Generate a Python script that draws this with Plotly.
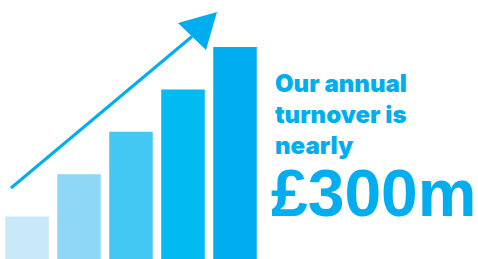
import plotly.graph_objects as go

# Data
steps = [0, 1, 2, 3, 4]
values = [1, 2, 3, 4, 5]
bar_colors = ["#C8E9F9", "#8FD7F6", "#43C8F4", "#00BAF2", "#00AEEF"]
text_lines = ["Our annual", "turnover is", "nearly"]
headline = "£300m"
accent = "#00AEEF"

W, H = 478, 259
px_per_x = 52.0
px_per_y = 42.4
x0_px = 27.0

def dx(px):
    return (px - x0_px) / px_per_x

def dy(py):
    return (H - py) / px_per_y

fig = go.Figure()
fig.add_trace(go.Bar(
    x=steps, y=values, width=0.837,
    marker=dict(color=bar_colors, line=dict(width=0)),
    hoverinfo="skip",
))

# arrow (decoration) in data space
start = (dx(11), dy(188))
tip = (dx(217), dy(12))
c1 = (dx(178), dy(23))
c2 = (dx(206), dy(50))
mid = ((c1[0] + c2[0]) / 2, (c1[1] + c2[1]) / 2)
fig.add_shape(type="line", x0=start[0], y0=start[1], x1=mid[0], y1=mid[1],
              xref="x", yref="y", line=dict(color=accent, width=3))
fig.add_shape(type="path",
              path=f"M {tip[0]},{tip[1]} L {c1[0]},{c1[1]} L {c2[0]},{c2[1]} Z",
              xref="x", yref="y", fillcolor=accent, line=dict(color=accent, width=0))

small_font = "Inter, Liberation Sans, Arial, sans-serif"
big_font = "Liberation Sans, Arial, Helvetica, sans-serif"
tops = [67, 98, 129]
for t, top in zip(text_lines, tops):
    fig.add_annotation(text=t, x=273 / W, y=1 - top / H,
                       xref="paper", yref="paper", xanchor="left", yanchor="top",
                       showarrow=False,
                       font=dict(family=small_font, size=24, weight=900, color=accent))
fig.add_annotation(text=headline, x=269 / W, y=1 - 154 / H,
                   xref="paper", yref="paper", xanchor="left", yanchor="top",
                   showarrow=False,
                   font=dict(family=big_font, size=66, weight=700, color=accent))

fig.update_layout(
    width=W, height=H,
    margin=dict(l=0, r=0, t=0, b=0),
    paper_bgcolor="white", plot_bgcolor="white",
    showlegend=False,
    xaxis=dict(range=[dx(0), dx(W)], visible=False, fixedrange=True),
    yaxis=dict(range=[0, dy(0)], visible=False, fixedrange=True),
)
fig.write_html("out.html", config={"displayModeBar": False},
               post_script="document.body.style.margin='0';document.body.style.overflow='hidden';")
